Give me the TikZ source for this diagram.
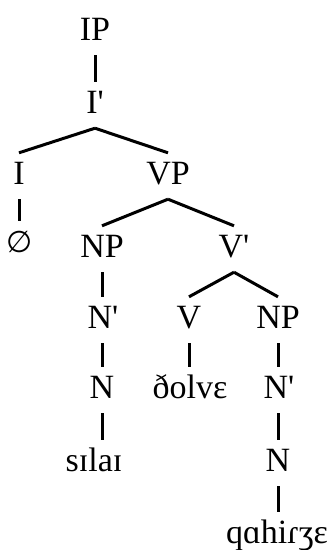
\documentclass[tikz,border=0pt]{standalone}
\usepackage{fontspec}
\setmainfont{Liberation Serif}
\newfontfamily\symfont{DejaVu Sans}
\begin{document}
\begin{tikzpicture}[x=1pt,y=-1pt,
  lab/.style={anchor=base,font=\fontsize{34}{40}\selectfont,text height=22pt,text depth=6pt,inner xsep=0pt,inner ysep=9pt},
  br/.style={line width=3pt}]
\useasboundingbox (0,0) rectangle (330,550);
\node[lab] (IP) at (95,40) {IP};
\node[lab] (Ib) at (95,113) {I\textquotesingle};
\node[lab] (I) at (19,184) {I};
\node[lab] (VP) at (168,184) {VP};
\node[lab] (null) at (20,252) {\symfont\fontsize{30}{36}\selectfont ∅};
\node[lab] (NP1) at (102,257) {NP};
\node[lab] (Vb) at (234,257) {V\textquotesingle};
\node[lab] (Nb1) at (103,328) {N\textquotesingle};
\node[lab] (V) at (189,328) {V};
\node[lab] (NP2) at (278,328) {NP};
\node[lab] (N1) at (102,398) {N};
\node[lab] (verb) at (190,398) {ðolvɛ};
\node[lab] (Nb2) at (279,398) {N\textquotesingle};
\node[lab] (w1) at (94,471) {sɪlaɪ};
\node[lab] (N2) at (278,471) {N};
\node[lab] (w2) at (277,543) {qɑhiɾʒɛ};
\draw[br] (IP.south) -- (Ib.north);
\draw[br] (Ib.south) -- (I.north);
\draw[br] (Ib.south) -- (VP.north);
\draw[br] (I.south) -- (null.north -| I.south);
\draw[br] (VP.south) -- (NP1.north);
\draw[br] (VP.south) -- (Vb.north);
\draw[br] (NP1.south) -- (Nb1.north -| NP1.south);
\draw[br] (Vb.south) -- (V.north);
\draw[br] (Vb.south) -- (NP2.north);
\draw[br] (Nb1.south -| N1.north) -- (N1.north);
\draw[br] (V.south) -- (verb.north -| V.south);
\draw[br] (NP2.south) -- (Nb2.north -| NP2.south);
\draw[br] (N1.south) -- (w1.north -| N1.south);
\draw[br] (Nb2.south -| N2.north) -- (N2.north);
\draw[br] (N2.south) -- (w2.north -| N2.south);
\end{tikzpicture}
\end{document}
